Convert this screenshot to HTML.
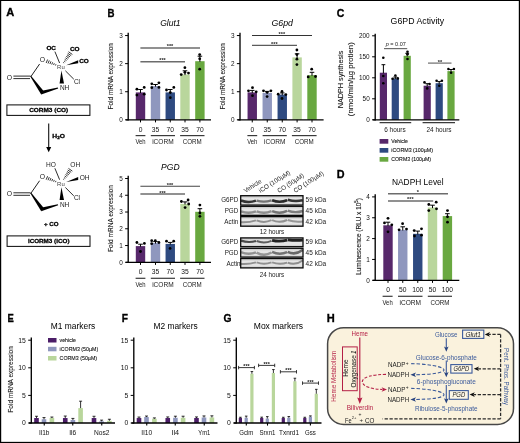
<!DOCTYPE html>
<html lang="en">
<head>
<meta charset="utf-8">
<title>Figure</title>
<style>
html, body { margin: 0; padding: 0; background: #ffffff; }
body { width: 520px; height: 443px; overflow: hidden; font-family: "Liberation Sans", sans-serif; }
svg { display: block; font-family: "Liberation Sans", sans-serif; will-change: transform; }
svg text { font-family: "Liberation Sans", sans-serif; }
</style>
</head>
<body>
<svg width="520" height="443" viewBox="0 0 520 443">
<rect x="0" y="0" width="520" height="443" fill="#fff"/>
<text x="6.30" y="16.20" font-size="11.4" text-anchor="start" fill="#000" font-weight="bold" textLength="8.00" lengthAdjust="spacingAndGlyphs" stroke="#000" stroke-width="0.35">A</text>
<text x="107.60" y="16.60" font-size="11.4" text-anchor="start" fill="#000" font-weight="bold" textLength="7.00" lengthAdjust="spacingAndGlyphs" stroke="#000" stroke-width="0.35">B</text>
<text x="336.80" y="16.60" font-size="11.4" text-anchor="start" fill="#000" font-weight="bold" textLength="7.60" lengthAdjust="spacingAndGlyphs" stroke="#000" stroke-width="0.35">C</text>
<text x="336.80" y="177.60" font-size="11.4" text-anchor="start" fill="#000" font-weight="bold" textLength="7.80" lengthAdjust="spacingAndGlyphs" stroke="#000" stroke-width="0.35">D</text>
<text x="7.60" y="321.90" font-size="11.4" text-anchor="start" fill="#000" font-weight="bold" textLength="6.30" lengthAdjust="spacingAndGlyphs" stroke="#000" stroke-width="0.35">E</text>
<text x="121.80" y="321.90" font-size="11.4" text-anchor="start" fill="#000" font-weight="bold" textLength="6.20" lengthAdjust="spacingAndGlyphs" stroke="#000" stroke-width="0.35">F</text>
<text x="223.40" y="321.90" font-size="11.4" text-anchor="start" fill="#000" font-weight="bold" textLength="8.00" lengthAdjust="spacingAndGlyphs" stroke="#000" stroke-width="0.35">G</text>
<text x="326.80" y="321.90" font-size="11.4" text-anchor="start" fill="#000" font-weight="bold" textLength="8.00" lengthAdjust="spacingAndGlyphs" stroke="#000" stroke-width="0.35">H</text>
<text x="60.90" y="69.13" font-size="6.2" text-anchor="middle" fill="#444" textLength="7.60" lengthAdjust="spacingAndGlyphs">Ru</text>
<text x="42.50" y="62.15" font-size="6.8" text-anchor="middle" fill="#222">O</text>
<text x="9.40" y="79.65" font-size="6.8" text-anchor="middle" fill="#222">O</text>
<text x="77.00" y="83.74" font-size="6.5" text-anchor="middle" fill="#222">Cl</text>
<text x="64.60" y="90.14" font-size="6.5" text-anchor="middle" fill="#222">NH</text>
<text x="51.20" y="50.09" font-size="5.8" text-anchor="middle" fill="#000" font-weight="bold" textLength="9.60" lengthAdjust="spacingAndGlyphs" stroke="#000" stroke-width="0.28">OC</text>
<text x="74.80" y="51.29" font-size="5.8" text-anchor="middle" fill="#000" font-weight="bold" textLength="9.60" lengthAdjust="spacingAndGlyphs" stroke="#000" stroke-width="0.28">CO</text>
<text x="84.00" y="63.39" font-size="5.8" text-anchor="middle" fill="#000" font-weight="bold" textLength="9.60" lengthAdjust="spacingAndGlyphs" stroke="#000" stroke-width="0.28">CO</text>
<line x1="54.90" y1="51.60" x2="59.60" y2="63.00" stroke="#222" stroke-width="0.95" />
<line x1="65.40" y1="70.80" x2="73.80" y2="79.20" stroke="#222" stroke-width="0.95" />
<line x1="39.60" y1="64.00" x2="30.60" y2="77.00" stroke="#222" stroke-width="1.0" />
<line x1="13.40" y1="76.10" x2="30.60" y2="76.10" stroke="#222" stroke-width="0.95" />
<line x1="13.40" y1="78.60" x2="30.00" y2="78.60" stroke="#222" stroke-width="0.95" />
<polygon points="66.20,65.20 78.20,60.20 78.20,63.30" fill="#000" />
<polygon points="61.40,70.60 59.60,83.40 64.00,83.40" fill="#000" />
<polygon points="30.30,76.60 31.40,76.20 44.00,91.60 41.20,94.60" fill="#000" />
<polygon points="41.20,94.60 43.20,90.60 57.80,87.60 58.20,88.60" fill="#000" />
<line x1="63.25" y1="62.41" x2="64.12" y2="63.02" stroke="#111" stroke-width="0.85" />
<line x1="63.99" y1="60.88" x2="65.29" y2="61.79" stroke="#111" stroke-width="0.85" />
<line x1="64.74" y1="59.36" x2="66.47" y2="60.57" stroke="#111" stroke-width="0.85" />
<line x1="65.49" y1="57.83" x2="67.65" y2="59.34" stroke="#111" stroke-width="0.85" />
<line x1="66.24" y1="56.31" x2="68.83" y2="58.12" stroke="#111" stroke-width="0.85" />
<line x1="66.98" y1="54.78" x2="70.00" y2="56.89" stroke="#111" stroke-width="0.85" />
<line x1="67.73" y1="53.25" x2="71.18" y2="55.67" stroke="#111" stroke-width="0.85" />
<line x1="68.48" y1="51.73" x2="72.36" y2="54.45" stroke="#111" stroke-width="0.85" />
<line x1="55.45" y1="65.51" x2="55.99" y2="64.18" stroke="#111" stroke-width="0.85" />
<line x1="53.59" y1="65.01" x2="54.31" y2="63.24" stroke="#111" stroke-width="0.85" />
<line x1="51.74" y1="64.50" x2="52.63" y2="62.31" stroke="#111" stroke-width="0.85" />
<line x1="49.88" y1="64.00" x2="50.95" y2="61.38" stroke="#111" stroke-width="0.85" />
<line x1="48.03" y1="63.50" x2="49.27" y2="60.45" stroke="#111" stroke-width="0.85" />
<line x1="46.18" y1="63.00" x2="47.59" y2="59.51" stroke="#111" stroke-width="0.85" />
<text x="60.90" y="185.83" font-size="6.2" text-anchor="middle" fill="#444" textLength="7.60" lengthAdjust="spacingAndGlyphs">Ru</text>
<text x="42.50" y="178.85" font-size="6.8" text-anchor="middle" fill="#222">O</text>
<text x="9.40" y="196.35" font-size="6.8" text-anchor="middle" fill="#222">O</text>
<text x="77.00" y="200.44" font-size="6.5" text-anchor="middle" fill="#222">Cl</text>
<text x="64.60" y="206.84" font-size="6.5" text-anchor="middle" fill="#222">NH</text>
<text x="51.00" y="167.38" font-size="6.6" text-anchor="middle" fill="#222">HO</text>
<text x="75.20" y="167.38" font-size="6.6" text-anchor="middle" fill="#222">OH</text>
<text x="84.60" y="179.78" font-size="6.6" text-anchor="middle" fill="#222">OH</text>
<line x1="54.90" y1="168.30" x2="59.60" y2="179.70" stroke="#222" stroke-width="0.95" />
<line x1="65.40" y1="187.50" x2="73.80" y2="195.90" stroke="#222" stroke-width="0.95" />
<line x1="39.60" y1="180.70" x2="30.60" y2="193.70" stroke="#222" stroke-width="1.0" />
<line x1="13.40" y1="192.80" x2="30.60" y2="192.80" stroke="#222" stroke-width="0.95" />
<line x1="13.40" y1="195.30" x2="30.00" y2="195.30" stroke="#222" stroke-width="0.95" />
<polygon points="66.20,181.90 78.20,176.90 78.20,180.00" fill="#000" />
<polygon points="61.40,187.30 59.60,200.10 64.00,200.10" fill="#000" />
<polygon points="30.30,193.30 31.40,192.90 44.00,208.30 41.20,211.30" fill="#000" />
<polygon points="41.20,211.30 43.20,207.30 57.80,204.30 58.20,205.30" fill="#000" />
<line x1="63.25" y1="179.11" x2="64.12" y2="179.72" stroke="#111" stroke-width="0.85" />
<line x1="63.99" y1="177.58" x2="65.29" y2="178.49" stroke="#111" stroke-width="0.85" />
<line x1="64.74" y1="176.06" x2="66.47" y2="177.27" stroke="#111" stroke-width="0.85" />
<line x1="65.49" y1="174.53" x2="67.65" y2="176.04" stroke="#111" stroke-width="0.85" />
<line x1="66.24" y1="173.01" x2="68.83" y2="174.82" stroke="#111" stroke-width="0.85" />
<line x1="66.98" y1="171.48" x2="70.00" y2="173.59" stroke="#111" stroke-width="0.85" />
<line x1="67.73" y1="169.95" x2="71.18" y2="172.37" stroke="#111" stroke-width="0.85" />
<line x1="68.48" y1="168.43" x2="72.36" y2="171.15" stroke="#111" stroke-width="0.85" />
<line x1="55.45" y1="182.21" x2="55.99" y2="180.88" stroke="#111" stroke-width="0.85" />
<line x1="53.59" y1="181.71" x2="54.31" y2="179.94" stroke="#111" stroke-width="0.85" />
<line x1="51.74" y1="181.20" x2="52.63" y2="179.01" stroke="#111" stroke-width="0.85" />
<line x1="49.88" y1="180.70" x2="50.95" y2="178.08" stroke="#111" stroke-width="0.85" />
<line x1="48.03" y1="180.20" x2="49.27" y2="177.15" stroke="#111" stroke-width="0.85" />
<line x1="46.18" y1="179.70" x2="47.59" y2="176.21" stroke="#111" stroke-width="0.85" />
<rect x="6.90" y="104.90" width="83.00" height="10.50" fill="#fff" stroke="#111" stroke-width="1.05" />
<text x="48.70" y="112.32" font-size="5.9" text-anchor="middle" fill="#000" font-weight="bold" textLength="39.00" lengthAdjust="spacingAndGlyphs" stroke="#000" stroke-width="0.28">CORM3 (CO)</text>
<line x1="48.70" y1="123.50" x2="48.70" y2="148.50" stroke="#111" stroke-width="1.1" />
<polygon points="46.20,147.00 51.20,147.00 48.70,152.20" fill="#000" />
<text x="52.30" y="138.12" font-size="5.9" text-anchor="start" fill="#000" font-weight="bold" textLength="12.60" lengthAdjust="spacingAndGlyphs" stroke="#000" stroke-width="0.28">H<tspan font-size="4" dy="1.3">2</tspan><tspan dy="-1.3">O</tspan></text>
<text x="51.30" y="225.82" font-size="5.9" text-anchor="middle" fill="#000" font-weight="bold" textLength="14.60" lengthAdjust="spacingAndGlyphs" stroke="#000" stroke-width="0.28">+ CO</text>
<rect x="7.10" y="235.90" width="82.90" height="10.50" fill="#fff" stroke="#111" stroke-width="1.05" />
<text x="48.70" y="243.32" font-size="5.9" text-anchor="middle" fill="#000" font-weight="bold" textLength="41.60" lengthAdjust="spacingAndGlyphs" stroke="#000" stroke-width="0.28">iCORM3 (iCO)</text>
<rect x="135.80" y="92.40" width="9.40" height="27.40" fill="#57286b" />
<rect x="150.80" y="86.10" width="9.40" height="33.70" fill="#8f97be" />
<rect x="165.55" y="92.40" width="9.40" height="27.40" fill="#2e4a80" />
<rect x="180.30" y="74.50" width="9.40" height="45.30" fill="#b9d69c" />
<rect x="195.20" y="61.20" width="9.40" height="58.60" fill="#69a840" />
<line x1="140.50" y1="89.50" x2="140.50" y2="93.00" stroke="#000" stroke-width="1.0" />
<line x1="138.20" y1="89.50" x2="142.80" y2="89.50" stroke="#000" stroke-width="1.0" />
<line x1="155.50" y1="84.50" x2="155.50" y2="86.70" stroke="#000" stroke-width="1.0" />
<line x1="153.20" y1="84.50" x2="157.80" y2="84.50" stroke="#000" stroke-width="1.0" />
<line x1="170.25" y1="89.50" x2="170.25" y2="93.00" stroke="#000" stroke-width="1.0" />
<line x1="167.95" y1="89.50" x2="172.55" y2="89.50" stroke="#000" stroke-width="1.0" />
<line x1="185.00" y1="70.80" x2="185.00" y2="75.10" stroke="#000" stroke-width="1.0" />
<line x1="182.70" y1="70.80" x2="187.30" y2="70.80" stroke="#000" stroke-width="1.0" />
<line x1="199.90" y1="56.20" x2="199.90" y2="61.80" stroke="#000" stroke-width="1.0" />
<line x1="197.60" y1="56.20" x2="202.20" y2="56.20" stroke="#000" stroke-width="1.0" />
<circle cx="136.90" cy="89.20" r="1.4" fill="#000"/>
<circle cx="144.20" cy="87.40" r="1.4" fill="#000"/>
<circle cx="136.90" cy="95.10" r="1.4" fill="#000"/>
<circle cx="144.20" cy="94.20" r="1.4" fill="#000"/>
<circle cx="151.80" cy="83.80" r="1.4" fill="#000"/>
<circle cx="158.90" cy="82.80" r="1.4" fill="#000"/>
<circle cx="151.80" cy="87.70" r="1.4" fill="#000"/>
<circle cx="158.90" cy="87.40" r="1.4" fill="#000"/>
<circle cx="166.50" cy="90.00" r="1.4" fill="#000"/>
<circle cx="173.80" cy="87.40" r="1.4" fill="#000"/>
<circle cx="170.30" cy="92.60" r="1.4" fill="#000"/>
<circle cx="170.30" cy="97.70" r="1.4" fill="#000"/>
<circle cx="184.90" cy="67.70" r="1.4" fill="#000"/>
<circle cx="181.20" cy="74.60" r="1.4" fill="#000"/>
<circle cx="184.90" cy="72.30" r="1.4" fill="#000"/>
<circle cx="188.50" cy="73.10" r="1.4" fill="#000"/>
<circle cx="199.70" cy="54.60" r="1.4" fill="#000"/>
<circle cx="199.70" cy="58.80" r="1.4" fill="#000"/>
<circle cx="199.70" cy="69.20" r="1.4" fill="#000"/>
<line x1="128.20" y1="32.80" x2="128.20" y2="120.40" stroke="#000" stroke-width="1.35" />
<line x1="125.10" y1="119.80" x2="128.20" y2="119.80" stroke="#000" stroke-width="1.0" />
<text x="122.70" y="122.10" font-size="6.4" text-anchor="end" fill="#111">0</text>
<line x1="125.10" y1="91.72" x2="128.20" y2="91.72" stroke="#000" stroke-width="1.0" />
<text x="122.70" y="94.02" font-size="6.4" text-anchor="end" fill="#111">1</text>
<line x1="125.10" y1="63.64" x2="128.20" y2="63.64" stroke="#000" stroke-width="1.0" />
<text x="122.70" y="65.94" font-size="6.4" text-anchor="end" fill="#111">2</text>
<line x1="125.10" y1="35.56" x2="128.20" y2="35.56" stroke="#000" stroke-width="1.0" />
<text x="122.70" y="37.86" font-size="6.4" text-anchor="end" fill="#111">3</text>
<line x1="125.80" y1="119.80" x2="211.00" y2="119.80" stroke="#000" stroke-width="1.3" />
<line x1="140.50" y1="119.80" x2="140.50" y2="122.40" stroke="#000" stroke-width="1.0" />
<line x1="155.50" y1="119.80" x2="155.50" y2="122.40" stroke="#000" stroke-width="1.0" />
<line x1="170.25" y1="119.80" x2="170.25" y2="122.40" stroke="#000" stroke-width="1.0" />
<line x1="185.00" y1="119.80" x2="185.00" y2="122.40" stroke="#000" stroke-width="1.0" />
<line x1="199.90" y1="119.80" x2="199.90" y2="122.40" stroke="#000" stroke-width="1.0" />
<text x="170.40" y="25.95" font-size="8.2" text-anchor="middle" fill="#000" font-style="italic" textLength="20.50" lengthAdjust="spacingAndGlyphs">Glut1</text>
<text x="140.50" y="131.71" font-size="6.7" text-anchor="middle" fill="#111">0</text>
<text x="155.50" y="131.71" font-size="6.7" text-anchor="middle" fill="#111">35</text>
<text x="170.25" y="131.71" font-size="6.7" text-anchor="middle" fill="#111">70</text>
<text x="185.00" y="131.71" font-size="6.7" text-anchor="middle" fill="#111">35</text>
<text x="199.90" y="131.71" font-size="6.7" text-anchor="middle" fill="#111">70</text>
<line x1="135.60" y1="135.60" x2="145.40" y2="135.60" stroke="#3a3a3a" stroke-width="1.2" />
<text x="140.50" y="144.18" font-size="6.6" text-anchor="middle" fill="#1a1a1a" textLength="10.20" lengthAdjust="spacingAndGlyphs">Veh</text>
<line x1="150.80" y1="135.60" x2="175.00" y2="135.60" stroke="#3a3a3a" stroke-width="1.2" />
<text x="162.90" y="144.18" font-size="6.6" text-anchor="middle" fill="#1a1a1a" textLength="21.50" lengthAdjust="spacingAndGlyphs">iCORM</text>
<line x1="180.10" y1="135.60" x2="204.50" y2="135.60" stroke="#3a3a3a" stroke-width="1.2" />
<text x="192.30" y="144.18" font-size="6.6" text-anchor="middle" fill="#1a1a1a" textLength="19.00" lengthAdjust="spacingAndGlyphs">CORM</text>
<text x="110.70" y="79.04" font-size="7.6" text-anchor="middle" fill="#1a1a1a" textLength="66.50" lengthAdjust="spacingAndGlyphs" transform="rotate(-90 110.70 76.30)" stroke="#1a1a1a" stroke-width="0.12">Fold mRNA expression</text>
<line x1="140.40" y1="47.90" x2="200.00" y2="47.90" stroke="#6c6c6c" stroke-width="1.5" />
<text x="170.00" y="48.42" font-size="5.6" text-anchor="middle" fill="#222" font-weight="bold">***</text>
<line x1="140.40" y1="61.80" x2="185.00" y2="61.80" stroke="#6c6c6c" stroke-width="1.5" />
<text x="162.50" y="62.32" font-size="5.6" text-anchor="middle" fill="#222" font-weight="bold">***</text>
<rect x="247.55" y="92.40" width="9.40" height="27.40" fill="#57286b" />
<rect x="262.55" y="93.00" width="9.40" height="26.80" fill="#8f97be" />
<rect x="277.55" y="94.60" width="9.40" height="25.20" fill="#2e4a80" />
<rect x="292.40" y="57.40" width="9.40" height="62.40" fill="#b9d69c" />
<rect x="307.30" y="75.20" width="9.40" height="44.60" fill="#69a840" />
<line x1="252.25" y1="90.40" x2="252.25" y2="93.00" stroke="#000" stroke-width="1.0" />
<line x1="249.95" y1="90.40" x2="254.55" y2="90.40" stroke="#000" stroke-width="1.0" />
<line x1="267.25" y1="91.40" x2="267.25" y2="93.60" stroke="#000" stroke-width="1.0" />
<line x1="264.95" y1="91.40" x2="269.55" y2="91.40" stroke="#000" stroke-width="1.0" />
<line x1="282.25" y1="92.90" x2="282.25" y2="95.20" stroke="#000" stroke-width="1.0" />
<line x1="279.95" y1="92.90" x2="284.55" y2="92.90" stroke="#000" stroke-width="1.0" />
<line x1="297.10" y1="53.80" x2="297.10" y2="58.00" stroke="#000" stroke-width="1.0" />
<line x1="294.80" y1="53.80" x2="299.40" y2="53.80" stroke="#000" stroke-width="1.0" />
<line x1="312.00" y1="72.30" x2="312.00" y2="75.80" stroke="#000" stroke-width="1.0" />
<line x1="309.70" y1="72.30" x2="314.30" y2="72.30" stroke="#000" stroke-width="1.0" />
<circle cx="252.50" cy="87.70" r="1.4" fill="#000"/>
<circle cx="248.50" cy="90.80" r="1.4" fill="#000"/>
<circle cx="256.20" cy="91.80" r="1.4" fill="#000"/>
<circle cx="252.50" cy="95.70" r="1.4" fill="#000"/>
<circle cx="263.50" cy="90.80" r="1.4" fill="#000"/>
<circle cx="270.90" cy="90.80" r="1.4" fill="#000"/>
<circle cx="267.10" cy="92.30" r="1.4" fill="#000"/>
<circle cx="267.10" cy="96.60" r="1.4" fill="#000"/>
<circle cx="282.00" cy="91.50" r="1.4" fill="#000"/>
<circle cx="278.20" cy="94.20" r="1.4" fill="#000"/>
<circle cx="285.80" cy="94.60" r="1.4" fill="#000"/>
<circle cx="282.00" cy="98.50" r="1.4" fill="#000"/>
<circle cx="296.90" cy="50.00" r="1.4" fill="#000"/>
<circle cx="296.90" cy="54.60" r="1.4" fill="#000"/>
<circle cx="296.90" cy="59.20" r="1.4" fill="#000"/>
<circle cx="296.90" cy="64.60" r="1.4" fill="#000"/>
<circle cx="311.70" cy="69.20" r="1.4" fill="#000"/>
<circle cx="308.20" cy="76.90" r="1.4" fill="#000"/>
<circle cx="315.50" cy="76.50" r="1.4" fill="#000"/>
<line x1="240.00" y1="32.80" x2="240.00" y2="120.40" stroke="#000" stroke-width="1.35" />
<line x1="236.90" y1="119.80" x2="240.00" y2="119.80" stroke="#000" stroke-width="1.0" />
<text x="234.50" y="122.10" font-size="6.4" text-anchor="end" fill="#111">0</text>
<line x1="236.90" y1="91.72" x2="240.00" y2="91.72" stroke="#000" stroke-width="1.0" />
<text x="234.50" y="94.02" font-size="6.4" text-anchor="end" fill="#111">1</text>
<line x1="236.90" y1="63.64" x2="240.00" y2="63.64" stroke="#000" stroke-width="1.0" />
<text x="234.50" y="65.94" font-size="6.4" text-anchor="end" fill="#111">2</text>
<line x1="236.90" y1="35.56" x2="240.00" y2="35.56" stroke="#000" stroke-width="1.0" />
<text x="234.50" y="37.86" font-size="6.4" text-anchor="end" fill="#111">3</text>
<line x1="237.60" y1="119.80" x2="323.60" y2="119.80" stroke="#000" stroke-width="1.3" />
<line x1="252.25" y1="119.80" x2="252.25" y2="122.40" stroke="#000" stroke-width="1.0" />
<line x1="267.25" y1="119.80" x2="267.25" y2="122.40" stroke="#000" stroke-width="1.0" />
<line x1="282.25" y1="119.80" x2="282.25" y2="122.40" stroke="#000" stroke-width="1.0" />
<line x1="297.10" y1="119.80" x2="297.10" y2="122.40" stroke="#000" stroke-width="1.0" />
<line x1="312.00" y1="119.80" x2="312.00" y2="122.40" stroke="#000" stroke-width="1.0" />
<text x="282.20" y="25.95" font-size="8.2" text-anchor="middle" fill="#000" font-style="italic" textLength="21.40" lengthAdjust="spacingAndGlyphs">G6pd</text>
<text x="252.25" y="131.71" font-size="6.7" text-anchor="middle" fill="#111">0</text>
<text x="267.25" y="131.71" font-size="6.7" text-anchor="middle" fill="#111">35</text>
<text x="282.25" y="131.71" font-size="6.7" text-anchor="middle" fill="#111">70</text>
<text x="297.10" y="131.71" font-size="6.7" text-anchor="middle" fill="#111">35</text>
<text x="312.00" y="131.71" font-size="6.7" text-anchor="middle" fill="#111">70</text>
<line x1="247.40" y1="135.60" x2="257.20" y2="135.60" stroke="#3a3a3a" stroke-width="1.2" />
<text x="252.30" y="144.18" font-size="6.6" text-anchor="middle" fill="#1a1a1a" textLength="10.20" lengthAdjust="spacingAndGlyphs">Veh</text>
<line x1="262.60" y1="135.60" x2="286.80" y2="135.60" stroke="#3a3a3a" stroke-width="1.2" />
<text x="274.70" y="144.18" font-size="6.6" text-anchor="middle" fill="#1a1a1a" textLength="21.50" lengthAdjust="spacingAndGlyphs">iCORM</text>
<line x1="291.90" y1="135.60" x2="316.60" y2="135.60" stroke="#3a3a3a" stroke-width="1.2" />
<text x="304.25" y="144.18" font-size="6.6" text-anchor="middle" fill="#1a1a1a" textLength="19.00" lengthAdjust="spacingAndGlyphs">CORM</text>
<text x="222.00" y="79.04" font-size="7.6" text-anchor="middle" fill="#1a1a1a" textLength="66.50" lengthAdjust="spacingAndGlyphs" transform="rotate(-90 222.00 76.30)" stroke="#1a1a1a" stroke-width="0.12">Fold mRNA expression</text>
<line x1="252.00" y1="35.50" x2="312.00" y2="35.50" stroke="#333" stroke-width="1.0" />
<text x="281.80" y="36.02" font-size="5.6" text-anchor="middle" fill="#222" font-weight="bold">***</text>
<line x1="252.00" y1="45.30" x2="297.00" y2="45.30" stroke="#333" stroke-width="1.0" />
<text x="274.30" y="45.82" font-size="5.6" text-anchor="middle" fill="#222" font-weight="bold">***</text>
<rect x="135.80" y="246.10" width="9.40" height="16.20" fill="#57286b" />
<rect x="150.80" y="243.00" width="9.40" height="19.30" fill="#8f97be" />
<rect x="165.55" y="243.90" width="9.40" height="18.40" fill="#2e4a80" />
<rect x="180.30" y="203.90" width="9.40" height="58.40" fill="#b9d69c" />
<rect x="195.20" y="211.80" width="9.40" height="50.50" fill="#69a840" />
<line x1="140.50" y1="244.20" x2="140.50" y2="246.70" stroke="#000" stroke-width="1.0" />
<line x1="138.20" y1="244.20" x2="142.80" y2="244.20" stroke="#000" stroke-width="1.0" />
<line x1="155.50" y1="241.60" x2="155.50" y2="243.60" stroke="#000" stroke-width="1.0" />
<line x1="153.20" y1="241.60" x2="157.80" y2="241.60" stroke="#000" stroke-width="1.0" />
<line x1="170.25" y1="242.40" x2="170.25" y2="244.50" stroke="#000" stroke-width="1.0" />
<line x1="167.95" y1="242.40" x2="172.55" y2="242.40" stroke="#000" stroke-width="1.0" />
<line x1="185.00" y1="201.90" x2="185.00" y2="204.50" stroke="#000" stroke-width="1.0" />
<line x1="182.70" y1="201.90" x2="187.30" y2="201.90" stroke="#000" stroke-width="1.0" />
<line x1="199.90" y1="208.70" x2="199.90" y2="212.40" stroke="#000" stroke-width="1.0" />
<line x1="197.60" y1="208.70" x2="202.20" y2="208.70" stroke="#000" stroke-width="1.0" />
<circle cx="136.90" cy="242.50" r="1.4" fill="#000"/>
<circle cx="144.40" cy="243.40" r="1.4" fill="#000"/>
<circle cx="140.50" cy="251.50" r="1.4" fill="#000"/>
<circle cx="151.70" cy="240.70" r="1.4" fill="#000"/>
<circle cx="155.30" cy="240.70" r="1.4" fill="#000"/>
<circle cx="151.70" cy="243.70" r="1.4" fill="#000"/>
<circle cx="158.90" cy="242.50" r="1.4" fill="#000"/>
<circle cx="166.50" cy="241.20" r="1.4" fill="#000"/>
<circle cx="173.70" cy="241.20" r="1.4" fill="#000"/>
<circle cx="170.10" cy="248.40" r="1.4" fill="#000"/>
<circle cx="181.40" cy="201.50" r="1.4" fill="#000"/>
<circle cx="188.10" cy="200.00" r="1.4" fill="#000"/>
<circle cx="188.70" cy="204.00" r="1.4" fill="#000"/>
<circle cx="185.10" cy="207.60" r="1.4" fill="#000"/>
<circle cx="199.90" cy="205.10" r="1.4" fill="#000"/>
<circle cx="199.90" cy="213.00" r="1.4" fill="#000"/>
<circle cx="199.90" cy="216.30" r="1.4" fill="#000"/>
<line x1="128.20" y1="175.80" x2="128.20" y2="262.90" stroke="#000" stroke-width="1.35" />
<line x1="125.10" y1="262.30" x2="128.20" y2="262.30" stroke="#000" stroke-width="1.0" />
<text x="122.70" y="264.60" font-size="6.4" text-anchor="end" fill="#111">0</text>
<line x1="125.10" y1="245.54" x2="128.20" y2="245.54" stroke="#000" stroke-width="1.0" />
<text x="122.70" y="247.84" font-size="6.4" text-anchor="end" fill="#111">1</text>
<line x1="125.10" y1="228.78" x2="128.20" y2="228.78" stroke="#000" stroke-width="1.0" />
<text x="122.70" y="231.08" font-size="6.4" text-anchor="end" fill="#111">2</text>
<line x1="125.10" y1="212.02" x2="128.20" y2="212.02" stroke="#000" stroke-width="1.0" />
<text x="122.70" y="214.32" font-size="6.4" text-anchor="end" fill="#111">3</text>
<line x1="125.10" y1="195.26" x2="128.20" y2="195.26" stroke="#000" stroke-width="1.0" />
<text x="122.70" y="197.56" font-size="6.4" text-anchor="end" fill="#111">4</text>
<line x1="125.10" y1="178.50" x2="128.20" y2="178.50" stroke="#000" stroke-width="1.0" />
<text x="122.70" y="180.80" font-size="6.4" text-anchor="end" fill="#111">5</text>
<line x1="125.80" y1="262.30" x2="211.00" y2="262.30" stroke="#000" stroke-width="1.3" />
<line x1="140.50" y1="262.30" x2="140.50" y2="264.90" stroke="#000" stroke-width="1.0" />
<line x1="155.50" y1="262.30" x2="155.50" y2="264.90" stroke="#000" stroke-width="1.0" />
<line x1="170.25" y1="262.30" x2="170.25" y2="264.90" stroke="#000" stroke-width="1.0" />
<line x1="185.00" y1="262.30" x2="185.00" y2="264.90" stroke="#000" stroke-width="1.0" />
<line x1="199.90" y1="262.30" x2="199.90" y2="264.90" stroke="#000" stroke-width="1.0" />
<text x="170.30" y="169.95" font-size="8.2" text-anchor="middle" fill="#000" font-style="italic" textLength="18.50" lengthAdjust="spacingAndGlyphs">PGD</text>
<text x="140.50" y="274.41" font-size="6.7" text-anchor="middle" fill="#111">0</text>
<text x="155.50" y="274.41" font-size="6.7" text-anchor="middle" fill="#111">35</text>
<text x="170.25" y="274.41" font-size="6.7" text-anchor="middle" fill="#111">70</text>
<text x="185.00" y="274.41" font-size="6.7" text-anchor="middle" fill="#111">35</text>
<text x="199.90" y="274.41" font-size="6.7" text-anchor="middle" fill="#111">70</text>
<line x1="135.60" y1="278.30" x2="145.40" y2="278.30" stroke="#3a3a3a" stroke-width="1.2" />
<text x="140.50" y="286.78" font-size="6.6" text-anchor="middle" fill="#1a1a1a" textLength="10.20" lengthAdjust="spacingAndGlyphs">Veh</text>
<line x1="150.80" y1="278.30" x2="175.00" y2="278.30" stroke="#3a3a3a" stroke-width="1.2" />
<text x="162.90" y="286.78" font-size="6.6" text-anchor="middle" fill="#1a1a1a" textLength="21.50" lengthAdjust="spacingAndGlyphs">iCORM</text>
<line x1="180.10" y1="278.30" x2="204.50" y2="278.30" stroke="#3a3a3a" stroke-width="1.2" />
<text x="192.30" y="286.78" font-size="6.6" text-anchor="middle" fill="#1a1a1a" textLength="19.00" lengthAdjust="spacingAndGlyphs">CORM</text>
<text x="110.50" y="221.34" font-size="7.6" text-anchor="middle" fill="#1a1a1a" textLength="67.00" lengthAdjust="spacingAndGlyphs" transform="rotate(-90 110.50 218.60)" stroke="#1a1a1a" stroke-width="0.12">Fold mRNA expression</text>
<line x1="140.40" y1="186.30" x2="200.00" y2="186.30" stroke="#444" stroke-width="1.1" />
<text x="170.00" y="186.82" font-size="5.6" text-anchor="middle" fill="#222" font-weight="bold">***</text>
<line x1="140.40" y1="194.00" x2="185.00" y2="194.00" stroke="#6c6c6c" stroke-width="1.5" />
<text x="162.50" y="194.52" font-size="5.6" text-anchor="middle" fill="#222" font-weight="bold">***</text>
<defs>
<linearGradient id="gel" x1="0" y1="0" x2="0" y2="1">
  <stop offset="0" stop-color="#bdbdbd"/><stop offset="0.3" stop-color="#e6e6e6"/>
 <stop offset="0.75" stop-color="#e4e4e4"/><stop offset="1" stop-color="#c4c4c4"/></linearGradient>
<filter id="bl" x="-20%" y="-200%" width="140%" height="500%"><feGaussianBlur stdDeviation="0.75"/></filter>
<filter id="bl2" x="-10%" y="-400%" width="120%" height="900%"><feGaussianBlur stdDeviation="0.9"/></filter>
</defs>
<clipPath id="bc1"><rect x="240.70" y="195.70" width="62.30" height="9.40"/></clipPath>
<g clip-path="url(#bc1)">
<rect x="240.70" y="195.70" width="62.30" height="9.40" fill="url(#gel)" />
<path d="M240.7,198.4 L303.0,198.4" stroke="#555" stroke-width="1.8" opacity="0.35" filter="url(#bl2)" fill="none"/>
<path d="M241.0,200.5 Q248.5,203.4 256.0,200.6" fill="none" stroke="#151515" stroke-width="2.5" opacity="0.85" filter="url(#bl)"/>
<path d="M256.6,200.6 Q264.1,202.9 271.5,200.4" fill="none" stroke="#151515" stroke-width="2.2" opacity="0.55" filter="url(#bl)"/>
<path d="M272.1,200.3 Q279.6,203.3 287.1,200.3" fill="none" stroke="#151515" stroke-width="2.6" opacity="0.9" filter="url(#bl)"/>
<path d="M287.7,199.8 Q295.2,202.1 302.7,200.3" fill="none" stroke="#151515" stroke-width="2.5" opacity="0.85" filter="url(#bl)"/>
</g>
<rect x="240.70" y="195.70" width="62.30" height="9.40" fill="none" stroke="#0a0a0a" stroke-width="1.3" />
<clipPath id="bc2"><rect x="240.70" y="206.30" width="62.30" height="9.10"/></clipPath>
<g clip-path="url(#bc2)">
<rect x="240.70" y="206.30" width="62.30" height="9.10" fill="url(#gel)" />
<path d="M240.7,208.7 L303.0,208.7" stroke="#555" stroke-width="1.8" opacity="0.22" filter="url(#bl2)" fill="none"/>
<path d="M241.0,211.3 Q248.5,214.1 256.0,211.3" fill="none" stroke="#151515" stroke-width="2.4" opacity="0.42" filter="url(#bl)"/>
<path d="M256.6,211.3 Q264.1,214.2 271.5,211.1" fill="none" stroke="#151515" stroke-width="2.4" opacity="0.42" filter="url(#bl)"/>
<path d="M272.1,211.1 Q279.6,214.4 287.1,210.9" fill="none" stroke="#151515" stroke-width="2.5" opacity="0.55" filter="url(#bl)"/>
<path d="M287.7,210.7 Q295.2,213.4 302.7,211.0" fill="none" stroke="#151515" stroke-width="2.4" opacity="0.5" filter="url(#bl)"/>
</g>
<rect x="240.70" y="206.30" width="62.30" height="9.10" fill="none" stroke="#0a0a0a" stroke-width="1.3" />
<clipPath id="bc3"><rect x="240.70" y="216.60" width="62.30" height="9.60"/></clipPath>
<g clip-path="url(#bc3)">
<rect x="240.70" y="216.60" width="62.30" height="9.60" fill="url(#gel)" />
<path d="M240.7,219.0 L303.0,219.0" stroke="#555" stroke-width="1.8" opacity="0.18" filter="url(#bl2)" fill="none"/>
<path d="M241.0,222.2 Q248.5,222.7 256.0,220.4" fill="none" stroke="#151515" stroke-width="2.0" opacity="0.4" filter="url(#bl)"/>
<path d="M256.6,220.4 Q264.1,223.5 271.5,220.2" fill="none" stroke="#151515" stroke-width="2.0" opacity="0.4" filter="url(#bl)"/>
<path d="M272.1,220.2 Q279.6,223.5 287.1,220.0" fill="none" stroke="#151515" stroke-width="2.0" opacity="0.4" filter="url(#bl)"/>
<path d="M287.7,220.0 Q295.2,222.5 302.7,221.4" fill="none" stroke="#151515" stroke-width="2.0" opacity="0.38" filter="url(#bl)"/>
</g>
<rect x="240.70" y="216.60" width="62.30" height="9.60" fill="none" stroke="#0a0a0a" stroke-width="1.3" />
<clipPath id="bc4"><rect x="240.70" y="237.90" width="62.30" height="8.80"/></clipPath>
<g clip-path="url(#bc4)">
<rect x="240.70" y="237.90" width="62.30" height="8.80" fill="url(#gel)" />
<path d="M240.7,244.7 L303.0,244.7" stroke="#555" stroke-width="1.8" opacity="0.22" filter="url(#bl2)" fill="none"/>
<path d="M241.0,240.6 Q248.5,243.2 256.0,241.0" fill="none" stroke="#151515" stroke-width="2.2" opacity="0.75" filter="url(#bl)"/>
<path d="M256.6,241.1 Q264.1,244.0 271.5,240.9" fill="none" stroke="#151515" stroke-width="2.1" opacity="0.65" filter="url(#bl)"/>
<path d="M272.1,240.4 Q279.6,242.1 287.1,240.2" fill="none" stroke="#151515" stroke-width="2.8" opacity="0.95" filter="url(#bl)"/>
<path d="M287.7,239.9 Q295.2,240.8 302.7,240.2" fill="none" stroke="#151515" stroke-width="2.8" opacity="0.95" filter="url(#bl)"/>
</g>
<rect x="240.70" y="237.90" width="62.30" height="8.80" fill="none" stroke="#0a0a0a" stroke-width="1.3" />
<clipPath id="bc5"><rect x="240.70" y="248.30" width="62.30" height="8.80"/></clipPath>
<g clip-path="url(#bc5)">
<rect x="240.70" y="248.30" width="62.30" height="8.80" fill="url(#gel)" />
<path d="M240.7,250.3 L303.0,250.3" stroke="#555" stroke-width="1.8" opacity="0.18" filter="url(#bl2)" fill="none"/>
<path d="M241.0,252.1 Q248.5,255.2 256.0,252.3" fill="none" stroke="#151515" stroke-width="2.4" opacity="0.4" filter="url(#bl)"/>
<path d="M256.6,252.6 Q264.1,256.9 271.5,252.5" fill="none" stroke="#151515" stroke-width="2.4" opacity="0.38" filter="url(#bl)"/>
<path d="M272.1,251.9 Q279.6,255.4 287.1,252.1" fill="none" stroke="#151515" stroke-width="2.5" opacity="0.55" filter="url(#bl)"/>
<path d="M287.7,251.9 Q295.2,255.6 302.7,250.1" fill="none" stroke="#151515" stroke-width="2.5" opacity="0.6" filter="url(#bl)"/>
</g>
<rect x="240.70" y="248.30" width="62.30" height="8.80" fill="none" stroke="#0a0a0a" stroke-width="1.3" />
<clipPath id="bc6"><rect x="240.70" y="258.50" width="62.30" height="9.40"/></clipPath>
<g clip-path="url(#bc6)">
<rect x="240.70" y="258.50" width="62.30" height="9.40" fill="url(#gel)" />
<path d="M240.7,260.7 L303.0,260.7" stroke="#555" stroke-width="1.8" opacity="0.15" filter="url(#bl2)" fill="none"/>
<path d="M241.0,263.9 Q248.5,264.4 256.0,262.4" fill="none" stroke="#151515" stroke-width="2.0" opacity="0.4" filter="url(#bl)"/>
<path d="M256.6,262.4 Q264.1,265.0 271.5,262.4" fill="none" stroke="#151515" stroke-width="2.0" opacity="0.4" filter="url(#bl)"/>
<path d="M272.1,262.4 Q279.6,265.1 287.1,262.6" fill="none" stroke="#151515" stroke-width="2.0" opacity="0.4" filter="url(#bl)"/>
<path d="M287.7,262.6 Q295.2,265.9 302.7,260.5" fill="none" stroke="#151515" stroke-width="2.0" opacity="0.42" filter="url(#bl)"/>
</g>
<rect x="240.70" y="258.50" width="62.30" height="9.40" fill="none" stroke="#0a0a0a" stroke-width="1.3" />
<text x="238.30" y="202.37" font-size="6.3" text-anchor="end" fill="#222">G6PD</text>
<text x="238.30" y="213.07" font-size="6.3" text-anchor="end" fill="#222">PGD</text>
<text x="238.30" y="223.57" font-size="6.3" text-anchor="end" fill="#222">Actin</text>
<text x="238.30" y="244.37" font-size="6.3" text-anchor="end" fill="#222">G6PD</text>
<text x="238.30" y="255.47" font-size="6.3" text-anchor="end" fill="#222">PGD</text>
<text x="240.60" y="266.27" font-size="6.3" text-anchor="end" fill="#222">Actin</text>
<text x="305.60" y="202.37" font-size="6.3" text-anchor="start" fill="#222" textLength="20.60" lengthAdjust="spacingAndGlyphs">59 kDa</text>
<text x="305.60" y="213.07" font-size="6.3" text-anchor="start" fill="#222" textLength="20.60" lengthAdjust="spacingAndGlyphs">45 kDa</text>
<text x="305.60" y="223.57" font-size="6.3" text-anchor="start" fill="#222" textLength="20.60" lengthAdjust="spacingAndGlyphs">42 kDa</text>
<text x="305.60" y="244.37" font-size="6.3" text-anchor="start" fill="#222" textLength="20.60" lengthAdjust="spacingAndGlyphs">59 kDa</text>
<text x="305.60" y="255.47" font-size="6.3" text-anchor="start" fill="#222" textLength="20.60" lengthAdjust="spacingAndGlyphs">45 kDa</text>
<text x="305.60" y="266.27" font-size="6.3" text-anchor="start" fill="#222" textLength="20.60" lengthAdjust="spacingAndGlyphs">42 kDa</text>
<text x="272.00" y="234.37" font-size="6.3" text-anchor="middle" fill="#222" textLength="24.50" lengthAdjust="spacingAndGlyphs">12 hours</text>
<text x="272.00" y="276.57" font-size="6.3" text-anchor="middle" fill="#222" textLength="24.50" lengthAdjust="spacingAndGlyphs">24 hours</text>
<text x="245.40" y="193.00" font-size="6.3" fill="#222" textLength="19.8" lengthAdjust="spacingAndGlyphs" transform="rotate(-32.5 245.40 193.00)">Vehicle</text>
<text x="260.60" y="193.00" font-size="6.3" fill="#222" textLength="35.8" lengthAdjust="spacingAndGlyphs" transform="rotate(-32.5 260.60 193.00)">iCO (100µM)</text>
<text x="279.00" y="193.00" font-size="6.3" fill="#222" textLength="30.2" lengthAdjust="spacingAndGlyphs" transform="rotate(-32.5 279.00 193.00)">CO (50µM)</text>
<text x="295.20" y="193.00" font-size="6.3" fill="#222" textLength="34.4" lengthAdjust="spacingAndGlyphs" transform="rotate(-32.5 295.20 193.00)">CO (100µM)</text>
<rect x="379.80" y="72.70" width="7.20" height="47.10" fill="#57286b" />
<rect x="391.70" y="78.40" width="7.20" height="41.40" fill="#2e4a80" />
<rect x="403.60" y="55.80" width="7.20" height="64.00" fill="#69a840" />
<rect x="423.60" y="85.70" width="7.20" height="34.10" fill="#57286b" />
<rect x="435.60" y="83.20" width="7.20" height="36.60" fill="#2e4a80" />
<rect x="447.40" y="71.10" width="7.20" height="48.70" fill="#69a840" />
<line x1="383.40" y1="64.70" x2="383.40" y2="73.30" stroke="#000" stroke-width="1.0" />
<line x1="381.50" y1="64.70" x2="385.30" y2="64.70" stroke="#000" stroke-width="1.0" />
<line x1="395.30" y1="77.00" x2="395.30" y2="79.00" stroke="#000" stroke-width="1.0" />
<line x1="393.40" y1="77.00" x2="397.20" y2="77.00" stroke="#000" stroke-width="1.0" />
<line x1="407.20" y1="53.30" x2="407.20" y2="56.40" stroke="#000" stroke-width="1.0" />
<line x1="405.30" y1="53.30" x2="409.10" y2="53.30" stroke="#000" stroke-width="1.0" />
<line x1="427.20" y1="83.70" x2="427.20" y2="86.30" stroke="#000" stroke-width="1.0" />
<line x1="425.30" y1="83.70" x2="429.10" y2="83.70" stroke="#000" stroke-width="1.0" />
<line x1="439.20" y1="81.60" x2="439.20" y2="83.80" stroke="#000" stroke-width="1.0" />
<line x1="437.30" y1="81.60" x2="441.10" y2="81.60" stroke="#000" stroke-width="1.0" />
<line x1="451.00" y1="69.50" x2="451.00" y2="71.70" stroke="#000" stroke-width="1.0" />
<line x1="449.10" y1="69.50" x2="452.90" y2="69.50" stroke="#000" stroke-width="1.0" />
<circle cx="383.30" cy="57.70" r="1.3" fill="#000"/>
<circle cx="383.30" cy="76.00" r="1.3" fill="#000"/>
<circle cx="383.30" cy="83.20" r="1.3" fill="#000"/>
<circle cx="395.40" cy="75.50" r="1.3" fill="#000"/>
<circle cx="392.60" cy="78.70" r="1.3" fill="#000"/>
<circle cx="397.80" cy="78.40" r="1.3" fill="#000"/>
<circle cx="407.50" cy="51.70" r="1.3" fill="#000"/>
<circle cx="407.50" cy="54.20" r="1.3" fill="#000"/>
<circle cx="407.50" cy="59.00" r="1.3" fill="#000"/>
<circle cx="424.50" cy="82.40" r="1.3" fill="#000"/>
<circle cx="429.60" cy="84.00" r="1.3" fill="#000"/>
<circle cx="427.20" cy="88.40" r="1.3" fill="#000"/>
<circle cx="436.60" cy="80.80" r="1.3" fill="#000"/>
<circle cx="441.90" cy="80.80" r="1.3" fill="#000"/>
<circle cx="439.30" cy="85.70" r="1.3" fill="#000"/>
<circle cx="448.40" cy="69.00" r="1.3" fill="#000"/>
<circle cx="453.90" cy="69.00" r="1.3" fill="#000"/>
<circle cx="451.10" cy="72.70" r="1.3" fill="#000"/>
<line x1="375.20" y1="33.80" x2="375.20" y2="120.40" stroke="#000" stroke-width="1.35" />
<line x1="372.10" y1="119.80" x2="375.20" y2="119.80" stroke="#000" stroke-width="1.0" />
<text x="369.70" y="122.10" font-size="6.4" text-anchor="end" fill="#111">0</text>
<line x1="372.10" y1="98.80" x2="375.20" y2="98.80" stroke="#000" stroke-width="1.0" />
<text x="369.70" y="101.10" font-size="6.4" text-anchor="end" fill="#111">50</text>
<line x1="372.10" y1="77.80" x2="375.20" y2="77.80" stroke="#000" stroke-width="1.0" />
<text x="369.70" y="80.10" font-size="6.4" text-anchor="end" fill="#111">100</text>
<line x1="372.10" y1="56.80" x2="375.20" y2="56.80" stroke="#000" stroke-width="1.0" />
<text x="369.70" y="59.10" font-size="6.4" text-anchor="end" fill="#111">150</text>
<line x1="372.10" y1="35.80" x2="375.20" y2="35.80" stroke="#000" stroke-width="1.0" />
<text x="369.70" y="38.10" font-size="6.4" text-anchor="end" fill="#111">200</text>
<line x1="372.80" y1="119.80" x2="459.30" y2="119.80" stroke="#000" stroke-width="1.3" />
<text x="417.40" y="24.32" font-size="8.4" text-anchor="middle" fill="#000" textLength="53.60" lengthAdjust="spacingAndGlyphs">G6PD Activity</text>
<text x="339.80" y="82.27" font-size="7.7" text-anchor="middle" fill="#1a1a1a" textLength="57.50" lengthAdjust="spacingAndGlyphs" transform="rotate(-90 339.80 79.50)" stroke="#1a1a1a" stroke-width="0.12">NADPH synthesis</text>
<text x="350.50" y="81.97" font-size="7.7" text-anchor="middle" fill="#1a1a1a" textLength="74.00" lengthAdjust="spacingAndGlyphs" transform="rotate(-90 350.50 79.20)" stroke="#1a1a1a" stroke-width="0.12">(nmol/min/µg protien)</text>
<line x1="379.60" y1="122.60" x2="411.20" y2="122.60" stroke="#3a3a3a" stroke-width="1.2" />
<line x1="422.60" y1="122.60" x2="455.00" y2="122.60" stroke="#3a3a3a" stroke-width="1.2" />
<text x="395.00" y="131.60" font-size="6.4" text-anchor="middle" fill="#1a1a1a" textLength="21.50" lengthAdjust="spacingAndGlyphs">6 hours</text>
<text x="439.00" y="131.60" font-size="6.4" text-anchor="middle" fill="#1a1a1a" textLength="25.00" lengthAdjust="spacingAndGlyphs">24 hours</text>
<line x1="384.00" y1="48.60" x2="407.20" y2="48.60" stroke="#6c6c6c" stroke-width="1.2" />
<text x="395.80" y="46.27" font-size="5.2" text-anchor="middle" fill="#222" textLength="20.00" lengthAdjust="spacingAndGlyphs"><tspan font-style="italic">p</tspan> = 0.07</text>
<line x1="428.00" y1="63.10" x2="451.50" y2="63.10" stroke="#6c6c6c" stroke-width="1.2" />
<text x="440.00" y="63.82" font-size="5.6" text-anchor="middle" fill="#222" font-weight="bold">**</text>
<rect x="379.60" y="139.00" width="8.70" height="4.70" fill="#57286b" />
<text x="391.30" y="143.44" font-size="5.4" text-anchor="start" fill="#111" textLength="16.60" lengthAdjust="spacingAndGlyphs" stroke="#111" stroke-width="0.1">Vehicle</text>
<rect x="379.60" y="148.00" width="8.70" height="4.70" fill="#2e4a80" />
<text x="391.30" y="152.44" font-size="5.4" text-anchor="start" fill="#111" textLength="41.60" lengthAdjust="spacingAndGlyphs" stroke="#111" stroke-width="0.1">iCORM3 (100µM)</text>
<rect x="379.60" y="157.00" width="8.70" height="4.70" fill="#69a840" />
<text x="391.30" y="161.44" font-size="5.4" text-anchor="start" fill="#111" textLength="39.80" lengthAdjust="spacingAndGlyphs" stroke="#111" stroke-width="0.1">CORM3 (100µM)</text>
<rect x="383.30" y="225.30" width="9.40" height="55.00" fill="#57286b" />
<rect x="398.05" y="229.90" width="9.40" height="50.40" fill="#8f97be" />
<rect x="413.05" y="233.80" width="9.40" height="46.50" fill="#2e4a80" />
<rect x="427.80" y="207.50" width="9.40" height="72.80" fill="#b9d69c" />
<rect x="442.70" y="216.10" width="9.40" height="64.20" fill="#69a840" />
<line x1="388.00" y1="222.20" x2="388.00" y2="225.90" stroke="#000" stroke-width="1.0" />
<line x1="385.70" y1="222.20" x2="390.30" y2="222.20" stroke="#000" stroke-width="1.0" />
<line x1="402.75" y1="226.80" x2="402.75" y2="230.50" stroke="#000" stroke-width="1.0" />
<line x1="400.45" y1="226.80" x2="405.05" y2="226.80" stroke="#000" stroke-width="1.0" />
<line x1="417.75" y1="231.10" x2="417.75" y2="234.40" stroke="#000" stroke-width="1.0" />
<line x1="415.45" y1="231.10" x2="420.05" y2="231.10" stroke="#000" stroke-width="1.0" />
<line x1="432.50" y1="205.20" x2="432.50" y2="208.10" stroke="#000" stroke-width="1.0" />
<line x1="430.20" y1="205.20" x2="434.80" y2="205.20" stroke="#000" stroke-width="1.0" />
<line x1="447.40" y1="213.70" x2="447.40" y2="216.70" stroke="#000" stroke-width="1.0" />
<line x1="445.10" y1="213.70" x2="449.70" y2="213.70" stroke="#000" stroke-width="1.0" />
<circle cx="388.00" cy="218.30" r="1.4" fill="#000"/>
<circle cx="384.50" cy="222.90" r="1.4" fill="#000"/>
<circle cx="391.80" cy="224.80" r="1.4" fill="#000"/>
<circle cx="388.00" cy="231.80" r="1.4" fill="#000"/>
<circle cx="402.60" cy="223.70" r="1.4" fill="#000"/>
<circle cx="399.10" cy="229.80" r="1.4" fill="#000"/>
<circle cx="406.50" cy="229.10" r="1.4" fill="#000"/>
<circle cx="414.20" cy="230.60" r="1.4" fill="#000"/>
<circle cx="421.50" cy="228.80" r="1.4" fill="#000"/>
<circle cx="414.50" cy="236.00" r="1.4" fill="#000"/>
<circle cx="421.50" cy="235.20" r="1.4" fill="#000"/>
<circle cx="428.80" cy="204.50" r="1.4" fill="#000"/>
<circle cx="436.20" cy="202.20" r="1.4" fill="#000"/>
<circle cx="436.50" cy="208.80" r="1.4" fill="#000"/>
<circle cx="428.80" cy="210.60" r="1.4" fill="#000"/>
<circle cx="447.50" cy="210.60" r="1.4" fill="#000"/>
<circle cx="447.50" cy="216.80" r="1.4" fill="#000"/>
<circle cx="447.50" cy="222.20" r="1.4" fill="#000"/>
<line x1="375.20" y1="194.30" x2="375.20" y2="280.90" stroke="#000" stroke-width="1.35" />
<line x1="372.10" y1="280.30" x2="375.20" y2="280.30" stroke="#000" stroke-width="1.0" />
<text x="369.70" y="282.60" font-size="6.4" text-anchor="end" fill="#111">0</text>
<line x1="372.10" y1="259.45" x2="375.20" y2="259.45" stroke="#000" stroke-width="1.0" />
<text x="369.70" y="261.75" font-size="6.4" text-anchor="end" fill="#111">1</text>
<line x1="372.10" y1="238.60" x2="375.20" y2="238.60" stroke="#000" stroke-width="1.0" />
<text x="369.70" y="240.90" font-size="6.4" text-anchor="end" fill="#111">2</text>
<line x1="372.10" y1="217.75" x2="375.20" y2="217.75" stroke="#000" stroke-width="1.0" />
<text x="369.70" y="220.05" font-size="6.4" text-anchor="end" fill="#111">3</text>
<line x1="372.10" y1="196.90" x2="375.20" y2="196.90" stroke="#000" stroke-width="1.0" />
<text x="369.70" y="199.20" font-size="6.4" text-anchor="end" fill="#111">4</text>
<line x1="372.80" y1="280.30" x2="459.30" y2="280.30" stroke="#000" stroke-width="1.3" />
<line x1="388.00" y1="280.30" x2="388.00" y2="282.90" stroke="#000" stroke-width="1.0" />
<line x1="402.75" y1="280.30" x2="402.75" y2="282.90" stroke="#000" stroke-width="1.0" />
<line x1="417.75" y1="280.30" x2="417.75" y2="282.90" stroke="#000" stroke-width="1.0" />
<line x1="432.50" y1="280.30" x2="432.50" y2="282.90" stroke="#000" stroke-width="1.0" />
<line x1="447.40" y1="280.30" x2="447.40" y2="282.90" stroke="#000" stroke-width="1.0" />
<text x="417.80" y="184.82" font-size="8.4" text-anchor="middle" fill="#000" textLength="51.60" lengthAdjust="spacingAndGlyphs">NADPH Level</text>
<text x="388.00" y="292.21" font-size="6.7" text-anchor="middle" fill="#111">0</text>
<text x="402.75" y="292.21" font-size="6.7" text-anchor="middle" fill="#111">50</text>
<text x="417.75" y="292.21" font-size="6.7" text-anchor="middle" fill="#111">100</text>
<text x="432.50" y="292.21" font-size="6.7" text-anchor="middle" fill="#111">50</text>
<text x="447.40" y="292.21" font-size="6.7" text-anchor="middle" fill="#111">100</text>
<line x1="382.60" y1="296.30" x2="392.60" y2="296.30" stroke="#3a3a3a" stroke-width="1.2" />
<text x="387.60" y="304.88" font-size="6.6" text-anchor="middle" fill="#1a1a1a" textLength="10.20" lengthAdjust="spacingAndGlyphs">Veh</text>
<line x1="398.00" y1="296.30" x2="422.50" y2="296.30" stroke="#3a3a3a" stroke-width="1.2" />
<text x="410.25" y="304.88" font-size="6.6" text-anchor="middle" fill="#1a1a1a" textLength="21.50" lengthAdjust="spacingAndGlyphs">iCORM</text>
<line x1="427.80" y1="296.30" x2="452.00" y2="296.30" stroke="#3a3a3a" stroke-width="1.2" />
<text x="439.90" y="304.88" font-size="6.6" text-anchor="middle" fill="#1a1a1a" textLength="19.00" lengthAdjust="spacingAndGlyphs">CORM</text>
<text x="358.20" y="239.34" font-size="7.6" text-anchor="middle" fill="#1a1a1a" textLength="76.80" lengthAdjust="spacingAndGlyphs" transform="rotate(-90 358.20 236.60)" stroke="#1a1a1a" stroke-width="0.12">Luminescence (RLU x 10<tspan font-size="5.0" dy="-2.6">5</tspan><tspan dy="2.6">)</tspan></text>
<line x1="388.00" y1="193.80" x2="448.00" y2="193.80" stroke="#6c6c6c" stroke-width="1.5" />
<text x="417.80" y="194.32" font-size="5.6" text-anchor="middle" fill="#222" font-weight="bold">*</text>
<line x1="388.00" y1="200.90" x2="433.20" y2="200.90" stroke="#6c6c6c" stroke-width="1.5" />
<text x="410.30" y="201.42" font-size="5.6" text-anchor="middle" fill="#222" font-weight="bold">***</text>
<rect x="34.20" y="418.03" width="4.60" height="4.97" fill="#4b1d67" />
<line x1="36.50" y1="416.27" x2="36.50" y2="418.03" stroke="#000" stroke-width="0.8" />
<line x1="35.00" y1="416.27" x2="38.00" y2="416.27" stroke="#000" stroke-width="0.8" />
<rect x="41.70" y="419.25" width="4.60" height="3.75" fill="#8f97be" />
<line x1="44.00" y1="417.59" x2="44.00" y2="419.25" stroke="#000" stroke-width="0.8" />
<line x1="42.50" y1="417.59" x2="45.50" y2="417.59" stroke="#000" stroke-width="0.8" />
<rect x="49.60" y="418.03" width="4.60" height="4.97" fill="#b9d69c" />
<line x1="51.90" y1="417.04" x2="51.90" y2="418.03" stroke="#000" stroke-width="0.8" />
<line x1="50.40" y1="417.04" x2="53.40" y2="417.04" stroke="#000" stroke-width="0.8" />
<rect x="62.95" y="418.03" width="4.60" height="4.97" fill="#4b1d67" />
<line x1="65.25" y1="416.04" x2="65.25" y2="418.03" stroke="#000" stroke-width="0.8" />
<line x1="63.75" y1="416.04" x2="66.75" y2="416.04" stroke="#000" stroke-width="0.8" />
<rect x="70.60" y="419.96" width="4.60" height="3.04" fill="#8f97be" />
<line x1="72.90" y1="418.42" x2="72.90" y2="419.96" stroke="#000" stroke-width="0.8" />
<line x1="71.40" y1="418.42" x2="74.40" y2="418.42" stroke="#000" stroke-width="0.8" />
<rect x="78.30" y="408.10" width="4.60" height="14.90" fill="#b9d69c" />
<line x1="80.60" y1="401.20" x2="80.60" y2="408.10" stroke="#000" stroke-width="0.8" />
<line x1="79.10" y1="401.20" x2="82.10" y2="401.20" stroke="#000" stroke-width="0.8" />
<rect x="91.70" y="418.03" width="4.60" height="4.97" fill="#4b1d67" />
<line x1="94.00" y1="416.27" x2="94.00" y2="418.03" stroke="#000" stroke-width="0.8" />
<line x1="92.50" y1="416.27" x2="95.50" y2="416.27" stroke="#000" stroke-width="0.8" />
<rect x="99.30" y="421.34" width="4.60" height="1.66" fill="#8f97be" />
<line x1="101.60" y1="420.13" x2="101.60" y2="421.34" stroke="#000" stroke-width="0.8" />
<line x1="100.10" y1="420.13" x2="103.10" y2="420.13" stroke="#000" stroke-width="0.8" />
<rect x="107.10" y="420.79" width="4.60" height="2.21" fill="#b9d69c" />
<line x1="109.40" y1="419.25" x2="109.40" y2="420.79" stroke="#000" stroke-width="0.8" />
<line x1="107.90" y1="419.25" x2="110.90" y2="419.25" stroke="#000" stroke-width="0.8" />
<line x1="31.30" y1="337.40" x2="31.30" y2="423.60" stroke="#000" stroke-width="1.35" />
<line x1="28.20" y1="423.00" x2="31.30" y2="423.00" stroke="#000" stroke-width="1.0" />
<text x="25.80" y="425.45" font-size="6.8" text-anchor="end" fill="#111">0</text>
<line x1="28.20" y1="395.40" x2="31.30" y2="395.40" stroke="#000" stroke-width="1.0" />
<text x="25.80" y="397.85" font-size="6.8" text-anchor="end" fill="#111">5</text>
<line x1="28.20" y1="367.80" x2="31.30" y2="367.80" stroke="#000" stroke-width="1.0" />
<text x="25.80" y="370.25" font-size="6.8" text-anchor="end" fill="#111">10</text>
<line x1="28.20" y1="340.20" x2="31.30" y2="340.20" stroke="#000" stroke-width="1.0" />
<text x="25.80" y="342.65" font-size="6.8" text-anchor="end" fill="#111">15</text>
<line x1="28.90" y1="423.00" x2="115.00" y2="423.00" stroke="#000" stroke-width="1.3" />
<line x1="44.25" y1="423.00" x2="44.25" y2="425.60" stroke="#000" stroke-width="1.1" />
<line x1="72.75" y1="423.00" x2="72.75" y2="425.60" stroke="#000" stroke-width="1.1" />
<line x1="101.75" y1="423.00" x2="101.75" y2="425.60" stroke="#000" stroke-width="1.1" />
<text x="73.00" y="329.32" font-size="8.4" text-anchor="middle" fill="#000" textLength="44.40" lengthAdjust="spacingAndGlyphs">M1 markers</text>
<text x="44.25" y="434.98" font-size="6.6" text-anchor="middle" fill="#111" textLength="10.50" lengthAdjust="spacingAndGlyphs">Il1b</text>
<text x="72.75" y="434.98" font-size="6.6" text-anchor="middle" fill="#111" textLength="7.00" lengthAdjust="spacingAndGlyphs">Il6</text>
<text x="101.75" y="434.98" font-size="6.6" text-anchor="middle" fill="#111" textLength="15.50" lengthAdjust="spacingAndGlyphs">Nos2</text>
<text x="10.00" y="382.14" font-size="7.6" text-anchor="middle" fill="#1a1a1a" textLength="66.50" lengthAdjust="spacingAndGlyphs" transform="rotate(-90 10.00 379.40)" stroke="#1a1a1a" stroke-width="0.12">Fold mRNA expression</text>
<rect x="48.00" y="338.00" width="8.50" height="4.50" fill="#4b1d67" />
<text x="59.60" y="342.24" font-size="5.4" text-anchor="start" fill="#111" textLength="16.20" lengthAdjust="spacingAndGlyphs" stroke="#111" stroke-width="0.1">vehicle</text>
<rect x="48.00" y="346.80" width="8.50" height="4.50" fill="#8f97be" />
<text x="59.60" y="351.04" font-size="5.4" text-anchor="start" fill="#111" textLength="38.60" lengthAdjust="spacingAndGlyphs" stroke="#111" stroke-width="0.1">iCORM3 (50µM)</text>
<rect x="48.00" y="356.00" width="8.50" height="4.50" fill="#b9d69c" />
<text x="59.60" y="360.24" font-size="5.4" text-anchor="start" fill="#111" textLength="37.50" lengthAdjust="spacingAndGlyphs" stroke="#111" stroke-width="0.1">CORM3 (50µM)</text>
<rect x="136.70" y="418.03" width="4.60" height="4.97" fill="#4b1d67" />
<line x1="139.00" y1="417.04" x2="139.00" y2="418.03" stroke="#000" stroke-width="0.8" />
<line x1="137.50" y1="417.04" x2="140.50" y2="417.04" stroke="#000" stroke-width="0.8" />
<rect x="144.20" y="417.04" width="4.60" height="5.96" fill="#8f97be" />
<line x1="146.50" y1="416.04" x2="146.50" y2="417.04" stroke="#000" stroke-width="0.8" />
<line x1="145.00" y1="416.04" x2="148.00" y2="416.04" stroke="#000" stroke-width="0.8" />
<rect x="152.10" y="418.75" width="4.60" height="4.25" fill="#b9d69c" />
<line x1="154.40" y1="417.92" x2="154.40" y2="418.75" stroke="#000" stroke-width="0.8" />
<line x1="152.90" y1="417.92" x2="155.90" y2="417.92" stroke="#000" stroke-width="0.8" />
<rect x="165.45" y="418.03" width="4.60" height="4.97" fill="#4b1d67" />
<line x1="167.75" y1="416.93" x2="167.75" y2="418.03" stroke="#000" stroke-width="0.8" />
<line x1="166.25" y1="416.93" x2="169.25" y2="416.93" stroke="#000" stroke-width="0.8" />
<rect x="173.10" y="417.76" width="4.60" height="5.24" fill="#8f97be" />
<line x1="175.40" y1="416.21" x2="175.40" y2="417.76" stroke="#000" stroke-width="0.8" />
<line x1="173.90" y1="416.21" x2="176.90" y2="416.21" stroke="#000" stroke-width="0.8" />
<rect x="180.80" y="417.76" width="4.60" height="5.24" fill="#b9d69c" />
<line x1="183.10" y1="416.21" x2="183.10" y2="417.76" stroke="#000" stroke-width="0.8" />
<line x1="181.60" y1="416.21" x2="184.60" y2="416.21" stroke="#000" stroke-width="0.8" />
<rect x="194.20" y="418.03" width="4.60" height="4.97" fill="#4b1d67" />
<line x1="196.50" y1="416.93" x2="196.50" y2="418.03" stroke="#000" stroke-width="0.8" />
<line x1="195.00" y1="416.93" x2="198.00" y2="416.93" stroke="#000" stroke-width="0.8" />
<rect x="201.70" y="417.48" width="4.60" height="5.52" fill="#8f97be" />
<line x1="204.00" y1="415.93" x2="204.00" y2="417.48" stroke="#000" stroke-width="0.8" />
<line x1="202.50" y1="415.93" x2="205.50" y2="415.93" stroke="#000" stroke-width="0.8" />
<rect x="209.60" y="417.48" width="4.60" height="5.52" fill="#b9d69c" />
<line x1="211.90" y1="415.82" x2="211.90" y2="417.48" stroke="#000" stroke-width="0.8" />
<line x1="210.40" y1="415.82" x2="213.40" y2="415.82" stroke="#000" stroke-width="0.8" />
<line x1="133.80" y1="337.40" x2="133.80" y2="423.60" stroke="#000" stroke-width="1.35" />
<line x1="130.70" y1="423.00" x2="133.80" y2="423.00" stroke="#000" stroke-width="1.0" />
<text x="128.30" y="425.45" font-size="6.8" text-anchor="end" fill="#111">0</text>
<line x1="130.70" y1="395.40" x2="133.80" y2="395.40" stroke="#000" stroke-width="1.0" />
<text x="128.30" y="397.85" font-size="6.8" text-anchor="end" fill="#111">5</text>
<line x1="130.70" y1="367.80" x2="133.80" y2="367.80" stroke="#000" stroke-width="1.0" />
<text x="128.30" y="370.25" font-size="6.8" text-anchor="end" fill="#111">10</text>
<line x1="130.70" y1="340.20" x2="133.80" y2="340.20" stroke="#000" stroke-width="1.0" />
<text x="128.30" y="342.65" font-size="6.8" text-anchor="end" fill="#111">15</text>
<line x1="131.40" y1="423.00" x2="217.50" y2="423.00" stroke="#000" stroke-width="1.3" />
<line x1="146.75" y1="423.00" x2="146.75" y2="425.60" stroke="#000" stroke-width="1.1" />
<line x1="175.25" y1="423.00" x2="175.25" y2="425.60" stroke="#000" stroke-width="1.1" />
<line x1="204.25" y1="423.00" x2="204.25" y2="425.60" stroke="#000" stroke-width="1.1" />
<text x="175.60" y="329.32" font-size="8.4" text-anchor="middle" fill="#000" textLength="44.40" lengthAdjust="spacingAndGlyphs">M2 markers</text>
<text x="146.75" y="434.98" font-size="6.6" text-anchor="middle" fill="#111" textLength="10.80" lengthAdjust="spacingAndGlyphs">Il10</text>
<text x="175.25" y="434.98" font-size="6.6" text-anchor="middle" fill="#111" textLength="7.60" lengthAdjust="spacingAndGlyphs">Il4</text>
<text x="204.25" y="434.98" font-size="6.6" text-anchor="middle" fill="#111" textLength="12.00" lengthAdjust="spacingAndGlyphs">Ym1</text>
<rect x="238.80" y="418.03" width="3.20" height="4.97" fill="#4b1d67" />
<line x1="240.40" y1="417.26" x2="240.40" y2="418.03" stroke="#000" stroke-width="0.8" />
<line x1="239.10" y1="417.26" x2="241.70" y2="417.26" stroke="#000" stroke-width="0.8" />
<rect x="244.60" y="417.76" width="3.20" height="5.24" fill="#8f97be" />
<line x1="246.20" y1="416.10" x2="246.20" y2="417.76" stroke="#000" stroke-width="0.8" />
<line x1="244.90" y1="416.10" x2="247.50" y2="416.10" stroke="#000" stroke-width="0.8" />
<rect x="250.30" y="373.76" width="3.20" height="49.24" fill="#b9d69c" />
<line x1="251.90" y1="371.55" x2="251.90" y2="373.76" stroke="#000" stroke-width="0.8" />
<line x1="250.60" y1="371.55" x2="253.20" y2="371.55" stroke="#000" stroke-width="0.8" />
<rect x="260.10" y="418.03" width="3.20" height="4.97" fill="#4b1d67" />
<line x1="261.70" y1="417.15" x2="261.70" y2="418.03" stroke="#000" stroke-width="0.8" />
<line x1="260.40" y1="417.15" x2="263.00" y2="417.15" stroke="#000" stroke-width="0.8" />
<rect x="265.70" y="418.58" width="3.20" height="4.42" fill="#8f97be" />
<line x1="267.30" y1="416.60" x2="267.30" y2="418.58" stroke="#000" stroke-width="0.8" />
<line x1="266.00" y1="416.60" x2="268.60" y2="416.60" stroke="#000" stroke-width="0.8" />
<rect x="271.80" y="372.99" width="3.20" height="50.01" fill="#b9d69c" />
<line x1="273.40" y1="369.57" x2="273.40" y2="372.99" stroke="#000" stroke-width="0.8" />
<line x1="272.10" y1="369.57" x2="274.70" y2="369.57" stroke="#000" stroke-width="0.8" />
<rect x="281.70" y="418.03" width="3.20" height="4.97" fill="#4b1d67" />
<line x1="283.30" y1="417.26" x2="283.30" y2="418.03" stroke="#000" stroke-width="0.8" />
<line x1="282.00" y1="417.26" x2="284.60" y2="417.26" stroke="#000" stroke-width="0.8" />
<rect x="287.20" y="417.76" width="3.20" height="5.24" fill="#8f97be" />
<line x1="288.80" y1="416.54" x2="288.80" y2="417.76" stroke="#000" stroke-width="0.8" />
<line x1="287.50" y1="416.54" x2="290.10" y2="416.54" stroke="#000" stroke-width="0.8" />
<rect x="293.30" y="381.27" width="3.20" height="41.73" fill="#b9d69c" />
<line x1="294.90" y1="378.23" x2="294.90" y2="381.27" stroke="#000" stroke-width="0.8" />
<line x1="293.60" y1="378.23" x2="296.20" y2="378.23" stroke="#000" stroke-width="0.8" />
<rect x="303.20" y="418.03" width="3.20" height="4.97" fill="#4b1d67" />
<line x1="304.80" y1="417.26" x2="304.80" y2="418.03" stroke="#000" stroke-width="0.8" />
<line x1="303.50" y1="417.26" x2="306.10" y2="417.26" stroke="#000" stroke-width="0.8" />
<rect x="308.80" y="416.65" width="3.20" height="6.35" fill="#8f97be" />
<line x1="310.40" y1="415.88" x2="310.40" y2="416.65" stroke="#000" stroke-width="0.8" />
<line x1="309.10" y1="415.88" x2="311.70" y2="415.88" stroke="#000" stroke-width="0.8" />
<rect x="314.70" y="393.74" width="3.20" height="29.26" fill="#b9d69c" />
<line x1="316.30" y1="389.33" x2="316.30" y2="393.74" stroke="#000" stroke-width="0.8" />
<line x1="315.00" y1="389.33" x2="317.60" y2="389.33" stroke="#000" stroke-width="0.8" />
<line x1="236.30" y1="337.40" x2="236.30" y2="423.60" stroke="#000" stroke-width="1.35" />
<line x1="233.20" y1="423.00" x2="236.30" y2="423.00" stroke="#000" stroke-width="1.0" />
<text x="230.80" y="425.45" font-size="6.8" text-anchor="end" fill="#111">0</text>
<line x1="233.20" y1="395.40" x2="236.30" y2="395.40" stroke="#000" stroke-width="1.0" />
<text x="230.80" y="397.85" font-size="6.8" text-anchor="end" fill="#111">5</text>
<line x1="233.20" y1="367.80" x2="236.30" y2="367.80" stroke="#000" stroke-width="1.0" />
<text x="230.80" y="370.25" font-size="6.8" text-anchor="end" fill="#111">10</text>
<line x1="233.20" y1="340.20" x2="236.30" y2="340.20" stroke="#000" stroke-width="1.0" />
<text x="230.80" y="342.65" font-size="6.8" text-anchor="end" fill="#111">15</text>
<line x1="233.90" y1="423.00" x2="321.50" y2="423.00" stroke="#000" stroke-width="1.3" />
<line x1="246.30" y1="423.00" x2="246.30" y2="425.60" stroke="#000" stroke-width="1.1" />
<line x1="267.50" y1="423.00" x2="267.50" y2="425.60" stroke="#000" stroke-width="1.1" />
<line x1="289.00" y1="423.00" x2="289.00" y2="425.60" stroke="#000" stroke-width="1.1" />
<line x1="310.40" y1="423.00" x2="310.40" y2="425.60" stroke="#000" stroke-width="1.1" />
<text x="278.40" y="329.32" font-size="8.4" text-anchor="middle" fill="#000" textLength="49.20" lengthAdjust="spacingAndGlyphs">Mox markers</text>
<text x="246.30" y="434.98" font-size="6.6" text-anchor="middle" fill="#111" textLength="14.00" lengthAdjust="spacingAndGlyphs">Gclm</text>
<text x="267.50" y="434.98" font-size="6.6" text-anchor="middle" fill="#111" textLength="16.00" lengthAdjust="spacingAndGlyphs">Srxn1</text>
<text x="289.00" y="434.98" font-size="6.6" text-anchor="middle" fill="#111" textLength="20.00" lengthAdjust="spacingAndGlyphs">Txnrd1</text>
<text x="310.40" y="434.98" font-size="6.6" text-anchor="middle" fill="#111" textLength="10.80" lengthAdjust="spacingAndGlyphs">Gss</text>
<line x1="238.60" y1="367.60" x2="254.40" y2="367.60" stroke="#222" stroke-width="0.9" />
<line x1="238.60" y1="365.90" x2="238.60" y2="369.30" stroke="#222" stroke-width="0.9" />
<line x1="254.40" y1="365.90" x2="254.40" y2="369.30" stroke="#222" stroke-width="0.9" />
<text x="246.50" y="368.14" font-size="5.4" text-anchor="middle" fill="#111" font-weight="bold">***</text>
<line x1="258.60" y1="365.40" x2="274.70" y2="365.40" stroke="#222" stroke-width="0.9" />
<line x1="258.60" y1="363.70" x2="258.60" y2="367.10" stroke="#222" stroke-width="0.9" />
<line x1="274.70" y1="363.70" x2="274.70" y2="367.10" stroke="#222" stroke-width="0.9" />
<text x="266.65" y="365.94" font-size="5.4" text-anchor="middle" fill="#111" font-weight="bold">***</text>
<line x1="280.40" y1="371.80" x2="296.50" y2="371.80" stroke="#222" stroke-width="0.9" />
<line x1="280.40" y1="370.10" x2="280.40" y2="373.50" stroke="#222" stroke-width="0.9" />
<line x1="296.50" y1="370.10" x2="296.50" y2="373.50" stroke="#222" stroke-width="0.9" />
<text x="288.45" y="372.34" font-size="5.4" text-anchor="middle" fill="#111" font-weight="bold">***</text>
<line x1="302.50" y1="383.10" x2="318.50" y2="383.10" stroke="#222" stroke-width="0.9" />
<line x1="302.50" y1="381.40" x2="302.50" y2="384.80" stroke="#222" stroke-width="0.9" />
<line x1="318.50" y1="381.40" x2="318.50" y2="384.80" stroke="#222" stroke-width="0.9" />
<text x="310.50" y="383.64" font-size="5.4" text-anchor="middle" fill="#111" font-weight="bold">***</text>
<rect x="327.60" y="327.70" width="185.90" height="96.70" fill="#faf2dd" stroke="#474747" stroke-width="1.5" rx="16" ry="16"/>
<text x="359.80" y="336.37" font-size="6.3" text-anchor="middle" fill="#b41f45" textLength="16.40" lengthAdjust="spacingAndGlyphs">Heme</text>
<line x1="359.80" y1="337.40" x2="359.80" y2="399.00" stroke="#b41f45" stroke-width="1.15" />
<polygon points="357.20,397.40 359.80,398.60 362.40,397.40 359.80,404.00" fill="#b41f45" />
<text x="360.00" y="409.87" font-size="6.3" text-anchor="middle" fill="#b41f45" textLength="26.50" lengthAdjust="spacingAndGlyphs">Biliverdin</text>
<text x="333.80" y="378.47" font-size="6.3" text-anchor="middle" fill="#b41f45" textLength="51.00" lengthAdjust="spacingAndGlyphs" transform="rotate(-90 333.80 376.20)">Heme Metabolism</text>
<rect x="342.50" y="346.90" width="14.70" height="43.80" fill="none" stroke="#b41f45" stroke-width="1.0" />
<text x="346.10" y="370.30" font-size="6.4" text-anchor="middle" fill="#111" textLength="17.40" lengthAdjust="spacingAndGlyphs" transform="rotate(-90 346.10 368.00)">Heme</text>
<text x="353.30" y="373.70" font-size="6.4" text-anchor="middle" fill="#111" textLength="32.20" lengthAdjust="spacingAndGlyphs" transform="rotate(-90 353.30 371.40)">Oxygenase</text>
<text x="353.30" y="354.50" font-size="6.4" text-anchor="middle" fill="#111" font-style="italic" transform="rotate(-90 353.30 352.20)">1</text>
<text x="345.00" y="422.64" font-size="6.5" text-anchor="start" fill="#222" textLength="6.60" lengthAdjust="spacingAndGlyphs">Fe</text>
<text x="351.70" y="419.35" font-size="4.3" text-anchor="start" fill="#222" textLength="4.60" lengthAdjust="spacingAndGlyphs">2+</text>
<text x="361.30" y="422.46" font-size="6.0" text-anchor="middle" fill="#222">+</text>
<text x="369.60" y="422.64" font-size="6.5" text-anchor="middle" fill="#222" textLength="9.40" lengthAdjust="spacingAndGlyphs">CO</text>
<text x="360.00" y="416.10" font-size="5.0" text-anchor="middle" fill="#222">+</text>
<text x="388.10" y="367.18" font-size="6.6" text-anchor="start" fill="#1c1c1c" textLength="17.40" lengthAdjust="spacingAndGlyphs">NADP</text>
<text x="405.70" y="364.53" font-size="4.8" text-anchor="start" fill="#1c1c1c">+</text>
<text x="387.40" y="377.08" font-size="6.6" text-anchor="start" fill="#1c1c1c" textLength="21.80" lengthAdjust="spacingAndGlyphs">NADPH</text>
<text x="388.10" y="391.88" font-size="6.6" text-anchor="start" fill="#1c1c1c" textLength="17.40" lengthAdjust="spacingAndGlyphs">NADP</text>
<text x="405.70" y="389.23" font-size="4.8" text-anchor="start" fill="#1c1c1c">+</text>
<text x="387.40" y="401.88" font-size="6.6" text-anchor="start" fill="#1c1c1c" textLength="21.80" lengthAdjust="spacingAndGlyphs">NADPH</text>
<path d="M386.0,374.4 C372,374.6 362.5,377 362.3,381.6 C362.5,386.6 372,389.2 382.5,389.5" fill="none" stroke="#b41f45" stroke-width="1.1" stroke-dasharray="3.0 1.7"/>
<polygon points="381.60,387.20 387.00,389.50 381.60,391.80 383.00,389.50" fill="#b41f45" />
<text x="446.20" y="336.57" font-size="6.3" text-anchor="middle" fill="#3b5a9b" textLength="22.60" lengthAdjust="spacingAndGlyphs">Glucose</text>
<text x="446.30" y="359.77" font-size="6.3" text-anchor="middle" fill="#3b5a9b" textLength="61.00" lengthAdjust="spacingAndGlyphs">Glucose-6-phosphate</text>
<text x="446.30" y="383.57" font-size="6.3" text-anchor="middle" fill="#3b5a9b" textLength="59.00" lengthAdjust="spacingAndGlyphs">6-phosphogluconate</text>
<text x="446.30" y="410.57" font-size="6.3" text-anchor="middle" fill="#3b5a9b" textLength="62.50" lengthAdjust="spacingAndGlyphs">Ribulose-5-phosphate</text>
<line x1="446.30" y1="338.20" x2="446.30" y2="348.30" stroke="#3b5a9b" stroke-width="1.1" />
<polygon points="444.00,346.60 446.30,347.80 448.60,346.60 446.30,351.80" fill="#27427e" />
<line x1="446.30" y1="360.60" x2="446.30" y2="373.70" stroke="#3b5a9b" stroke-width="1.1" />
<polygon points="444.00,372.00 446.30,373.20 448.60,372.00 446.30,377.20" fill="#27427e" />
<line x1="446.30" y1="385.00" x2="446.30" y2="399.90" stroke="#3b5a9b" stroke-width="1.1" />
<polygon points="444.00,398.20 446.30,399.40 448.60,398.20 446.30,403.40" fill="#27427e" />
<rect x="462.60" y="330.10" width="21.20" height="8.30" fill="#fcf6e6" stroke="#3b5a9b" stroke-width="1.1" />
<text x="473.20" y="336.65" font-size="6.4" text-anchor="middle" fill="#1c1c1c" font-style="italic" textLength="15.60" lengthAdjust="spacingAndGlyphs">Glut1</text>
<rect x="450.80" y="364.60" width="21.20" height="8.50" fill="#fcf6e6" stroke="#3b5a9b" stroke-width="1.1" />
<text x="461.40" y="371.25" font-size="6.4" text-anchor="middle" fill="#1c1c1c" font-style="italic" textLength="15.80" lengthAdjust="spacingAndGlyphs">G6PD</text>
<rect x="449.30" y="390.60" width="19.00" height="8.70" fill="#fcf6e6" stroke="#3b5a9b" stroke-width="1.1" />
<text x="458.80" y="397.35" font-size="6.4" text-anchor="middle" fill="#1c1c1c" font-style="italic" textLength="12.80" lengthAdjust="spacingAndGlyphs">PGD</text>
<path d="M411.2,363.6 C425,363.8 443.6,366.20000000000005 444.0,369.95 C443.6,373.09999999999997 430,374.5 415.0,374.7" fill="none" stroke="#3b5a9b" stroke-width="1.1" stroke-dasharray="3.5 1.9"/>
<polygon points="416.00,372.40 410.40,374.70 416.00,377.00 414.60,374.70" fill="#27427e" />
<path d="M411.2,388.4 C425,388.59999999999997 443.6,391.0 444.0,394.75 C443.6,397.9 430,399.3 415.0,399.5" fill="none" stroke="#3b5a9b" stroke-width="1.1" stroke-dasharray="3.5 1.9"/>
<polygon points="416.00,397.20 410.40,399.50 416.00,401.80 414.60,399.50" fill="#27427e" />
<line x1="500.60" y1="418.80" x2="382.60" y2="418.80" stroke="#2a2a2a" stroke-width="1.25" stroke-dasharray="3.3 1.6"/>
<line x1="500.60" y1="334.40" x2="500.60" y2="418.80" stroke="#2a2a2a" stroke-width="1.25" stroke-dasharray="3.3 1.6"/>
<line x1="500.60" y1="334.40" x2="488.80" y2="334.40" stroke="#2a2a2a" stroke-width="1.25" stroke-dasharray="3.3 1.6"/>
<polygon points="490.00,332.10 484.80,334.40 490.00,336.70 488.60,334.40" fill="#0a0a0a" />
<line x1="500.60" y1="368.80" x2="477.80" y2="368.80" stroke="#2a2a2a" stroke-width="1.25" stroke-dasharray="3.3 1.6"/>
<polygon points="479.00,366.50 473.80,368.80 479.00,371.10 477.60,368.80" fill="#0a0a0a" />
<line x1="500.60" y1="394.60" x2="473.60" y2="394.60" stroke="#2a2a2a" stroke-width="1.25" stroke-dasharray="3.3 1.6"/>
<polygon points="474.80,392.30 469.60,394.60 474.80,396.90 473.40,394.60" fill="#0a0a0a" />
<text x="506.40" y="378.87" font-size="6.3" text-anchor="middle" fill="#3b5a9b" textLength="57.00" lengthAdjust="spacingAndGlyphs" transform="rotate(90 506.40 376.60)">Pent. Phos. Pathway</text>
<rect x="0" y="0" width="520" height="1" fill="#000"/>
<rect x="0" y="0" width="1.2" height="443" fill="#000"/>
<rect x="518.8" y="0" width="1.2" height="443" fill="#000"/>
<rect x="0" y="441.85" width="520" height="1.15" fill="#000"/>
</svg>
</body>
</html>
